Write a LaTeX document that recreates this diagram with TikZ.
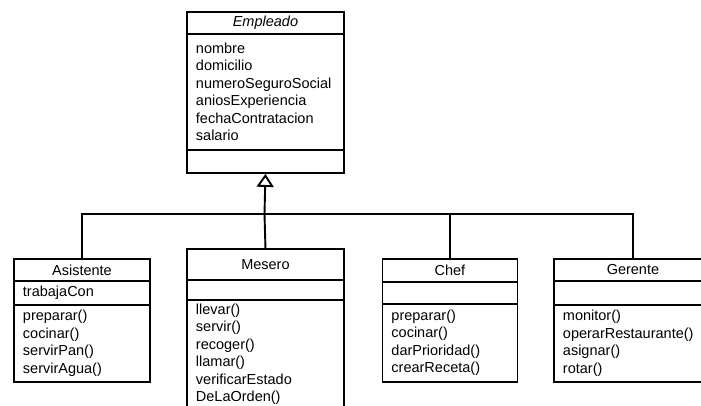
\documentclass[tikz,border=0pt]{standalone}
\usepackage{fontspec}
\setmainfont{Liberation Sans}
\usetikzlibrary{arrows.meta}
\tikzset{
	box/.style={draw, line width=1.9pt, anchor=north west, inner ysep=0pt, inner xsep=9pt, font=\fontsize{14.5}{17.5}\selectfont},
	head/.style={box, align=center},
	body/.style={box, align=left},
	link/.style={line width=1.9pt},
	gen/.style={link, -{Triangle[open, length=13pt, width=17pt]}}
}

\begin{document}
\begin{tikzpicture}[x=1pt, y=-1pt]
			%%%%% START %%%%%
			\path[use as bounding box] (0,0) rectangle (701,406);
			\clip (0,0) rectangle (701,406);
			\def\busy{214}
			
			% Empleado
			\node[head, minimum width=157pt, minimum height=22pt, text width=139pt] (emp) at (186,11) {\textit{Empleado}};
			\node[body, minimum width=157pt, minimum height=116pt, text width=139pt] (empattr) at (186,33) {nombre\\domicilio\\numeroSeguroSocial\\aniosExperiencia\\fechaContratacion\\salario};
			\node[body, minimum width=157pt, minimum height=23pt, text width=139pt] (empops) at (186,149) {};
			
			% Asistente
			\node[head, minimum width=136pt, minimum height=22pt, text width=118pt] (asis) at (13,258) {Asistente};
			\node[body, minimum width=136pt, minimum height=24pt, text width=118pt] (asisattr) at (13,280) {trabajaCon};
			\node[body, minimum width=136pt, minimum height=77pt, text width=118pt] (asisops) at (13,304) {preparar()\\cocinar()\\servirPan()\\servirAgua()};
			
			% Mesero
			\node[head, minimum width=157pt, minimum height=31pt, text width=139pt] (mes) at (186,248) {Mesero};
			\node[body, minimum width=157pt, minimum height=20pt, text width=139pt] (mesattr) at (186,279) {};
			\node[body, minimum width=157pt, inner ysep=4pt, text width=139pt] (mesops) at (186,299) {llevar()\\servir()\\recoger()\\llamar()\\verificarEstado\\DeLaOrden()\\\mbox{}};
			
			% Chef
			\node[head, minimum width=135pt, minimum height=23pt, text width=117pt] (chef) at (381.5,258) {Chef};
			\node[body, minimum width=135pt, minimum height=22pt, text width=117pt] (chefattr) at (381.5,281) {};
			\node[body, minimum width=135pt, minimum height=78pt, text width=117pt] (chefops) at (381.5,303) {preparar()\\cocinar()\\darPrioridad()\\crearReceta()};
			
			% Gerente
			\node[head, minimum width=158pt, minimum height=22pt, text width=140pt] (ger) at (553,258) {Gerente};
			\node[body, minimum width=158pt, minimum height=24pt, text width=140pt] (gerattr) at (553,280) {};
			\node[body, minimum width=158pt, minimum height=77pt, text width=140pt] (gerops) at (553,304) {monitor()\\operarRestaurante()\\asignar()\\rotar()};
			
			% herencia
			\coordinate (bus) at (264.5,\busy);
			\draw[gen] (bus) -- (empops.south);
			\draw[link] (asis.north) |- (bus);
			\draw[link] (mes.north) -- (bus);
			\draw[link] (chef.north) |- (bus);
			\draw[link] (ger.north) |- (bus);
			%%%%% END %%%%%
\end{tikzpicture}
\end{document}
